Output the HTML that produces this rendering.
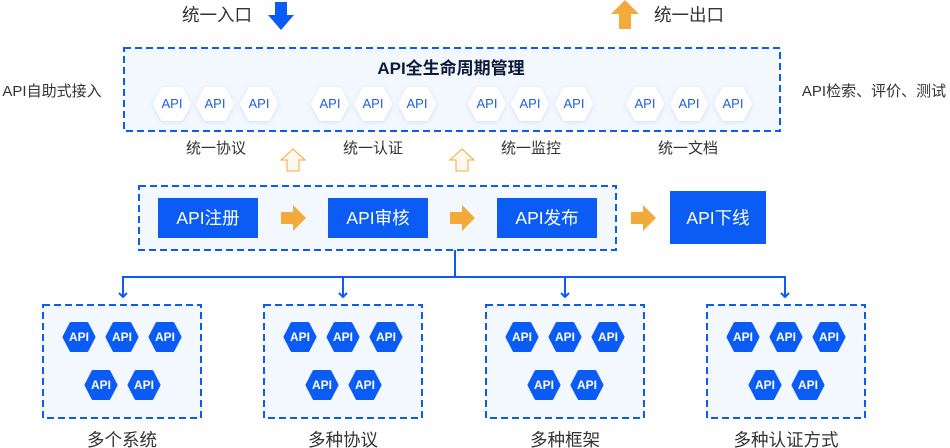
<!DOCTYPE html>
<html><head><meta charset="utf-8"><style>
html,body{margin:0;padding:0;background:#fff;}
svg{display:block;font-family:"Liberation Sans","Noto Sans CJK SC",sans-serif;}
.t{font-size:15px;fill:#333;text-anchor:middle;}
.w{font-size:13px;fill:#1f5fe0;text-anchor:middle;}
.b{font-size:12px;fill:#fff;text-anchor:middle;font-weight:bold;}
.bt{font-size:17.5px;fill:#fff;text-anchor:middle;}
</style></head><body>
<svg width="950" height="448" viewBox="0 0 950 448">
<defs>
<filter id="sh" x="-30%" y="-30%" width="160%" height="160%"><feDropShadow dx="0" dy="1" stdDeviation="2" flood-color="#8fb0f0" flood-opacity="0.35"/></filter>
<path id="hw" d="M-17,0 L-9,-15 L9,-15 L17,0 L9,15 L-9,15Z" fill="#fff" stroke="#fff" stroke-width="4" stroke-linejoin="round"/>
<path id="hb" d="M-15,0 L-8,-13.5 L8,-13.5 L15,0 L8,13.5 L-8,13.5Z" fill="#0a5cf5" stroke="#0a5cf5" stroke-width="3" stroke-linejoin="round"/>
<path id="oa" d="M0,-6 L12,-6 L12,-13 L25,0 L12,13 L12,6 L0,6Z" fill="#f4aa3a"/>
<path id="ha" d="M0,-11 L12,0 L6,0 L6,11 L-6,11 L-6,0 L-12,0Z" fill="#fff8ee" stroke="#f4aa3a" stroke-width="1"/>
</defs>

<text x="217" y="21" style="font-size:17.5px;fill:#333;text-anchor:middle">统一入口</text>
<path d="M275,2 L287,2 L287,15 L294,15 L281,30 L268,15 L275,15Z" fill="#0a5cf5"/>
<path d="M625,0 L639,14 L631,14 L631,29 L619,29 L619,14 L611,14Z" fill="#f4aa3a"/>
<text x="689" y="21" style="font-size:17.5px;fill:#333;text-anchor:middle">统一出口</text>

<text x="52" y="96" class="t">API自助式接入</text>
<text x="874" y="96" class="t">API检索、评价、测试</text>

<rect x="124" y="48" width="656" height="83" fill="#f3f7fe" stroke="#0a5cf5" stroke-width="2" stroke-dasharray="7,4"/>
<text x="451" y="74" style="font-size:17px;font-weight:bold;fill:#0d1a3a;text-anchor:middle">API全生命周期管理</text>
<g filter="url(#sh)">
<use href="#hw" x="172" y="104"/><use href="#hw" x="215" y="104"/><use href="#hw" x="259" y="104"/>
<use href="#hw" x="330" y="104"/><use href="#hw" x="373" y="104"/><use href="#hw" x="417" y="104"/>
<use href="#hw" x="487" y="104"/><use href="#hw" x="530" y="104"/><use href="#hw" x="574" y="104"/>
<use href="#hw" x="645" y="104"/><use href="#hw" x="689" y="104"/><use href="#hw" x="733" y="104"/>
</g>
<text x="172" y="108" class="w">API</text><text x="215" y="108" class="w">API</text><text x="259" y="108" class="w">API</text>
<text x="330" y="108" class="w">API</text><text x="373" y="108" class="w">API</text><text x="417" y="108" class="w">API</text>
<text x="487" y="108" class="w">API</text><text x="530" y="108" class="w">API</text><text x="574" y="108" class="w">API</text>
<text x="645" y="108" class="w">API</text><text x="689" y="108" class="w">API</text><text x="733" y="108" class="w">API</text>
<text x="216" y="153" class="t">统一协议</text>
<text x="373" y="153" class="t">统一认证</text>
<text x="531" y="153" class="t">统一监控</text>
<text x="688" y="153" class="t">统一文档</text>

<use href="#ha" x="293" y="160"/>
<use href="#ha" x="462" y="160"/>

<rect x="139" y="186" width="477" height="64" fill="#f3f7fe" stroke="#0a5cf5" stroke-width="2" stroke-dasharray="7,4"/>
<rect x="158" y="198" width="100" height="40" fill="#0a5cf5"/>
<rect x="328" y="198" width="100" height="40" fill="#0a5cf5"/>
<rect x="497" y="198" width="100" height="40" fill="#0a5cf5"/>
<rect x="670" y="191" width="96" height="53" fill="#0a5cf5"/>
<text x="208" y="224" class="bt">API注册</text>
<text x="378" y="224" class="bt">API审核</text>
<text x="547" y="224" class="bt">API发布</text>
<text x="718" y="224" class="bt">API下线</text>
<use href="#oa" x="281" y="218"/>
<use href="#oa" x="450" y="218"/>
<use href="#oa" x="631" y="218"/>

<g stroke="#0a5cf5" stroke-width="2" fill="none">
<path d="M455,250 V277 M123,277 H785 M123,276 V297 M343,276 V297 M565,276 V297 M785,276 V297"/>
<path d="M119,293 L123,297 L127,293 M339,293 L343,297 L347,293 M561,293 L565,297 L569,293 M781,293 L785,297 L789,293"/>
</g>

<g fill="#f3f7fe" stroke="#0a5cf5" stroke-width="2" stroke-dasharray="7,4">
<rect x="43" y="305" width="158" height="113"/>
<rect x="264" y="305" width="158" height="113"/>
<rect x="486" y="305" width="158" height="113"/>
<rect x="707" y="305" width="158" height="113"/>
</g>
<g>
<use href="#hb" x="79" y="337"/><use href="#hb" x="122" y="337"/><use href="#hb" x="165" y="337"/><use href="#hb" x="101" y="385"/><use href="#hb" x="144" y="385"/>
<use href="#hb" x="300" y="337"/><use href="#hb" x="343" y="337"/><use href="#hb" x="386" y="337"/><use href="#hb" x="322" y="385"/><use href="#hb" x="365" y="385"/>
<use href="#hb" x="522" y="337"/><use href="#hb" x="565" y="337"/><use href="#hb" x="608" y="337"/><use href="#hb" x="544" y="385"/><use href="#hb" x="587" y="385"/>
<use href="#hb" x="743" y="337"/><use href="#hb" x="786" y="337"/><use href="#hb" x="829" y="337"/><use href="#hb" x="765" y="385"/><use href="#hb" x="808" y="385"/>
</g>
<text x="79" y="341" class="b">API</text><text x="122" y="341" class="b">API</text><text x="165" y="341" class="b">API</text><text x="101" y="389" class="b">API</text><text x="144" y="389" class="b">API</text>
<text x="300" y="341" class="b">API</text><text x="343" y="341" class="b">API</text><text x="386" y="341" class="b">API</text><text x="322" y="389" class="b">API</text><text x="365" y="389" class="b">API</text>
<text x="522" y="341" class="b">API</text><text x="565" y="341" class="b">API</text><text x="608" y="341" class="b">API</text><text x="544" y="389" class="b">API</text><text x="587" y="389" class="b">API</text>
<text x="743" y="341" class="b">API</text><text x="786" y="341" class="b">API</text><text x="829" y="341" class="b">API</text><text x="765" y="389" class="b">API</text><text x="808" y="389" class="b">API</text>

<g style="font-size:17.5px;fill:#333;text-anchor:middle">
<text x="122" y="446">多个系统</text>
<text x="343" y="446">多种协议</text>
<text x="565" y="446">多种框架</text>
<text x="786" y="446">多种认证方式</text>
</g>
</svg>
</body></html>
